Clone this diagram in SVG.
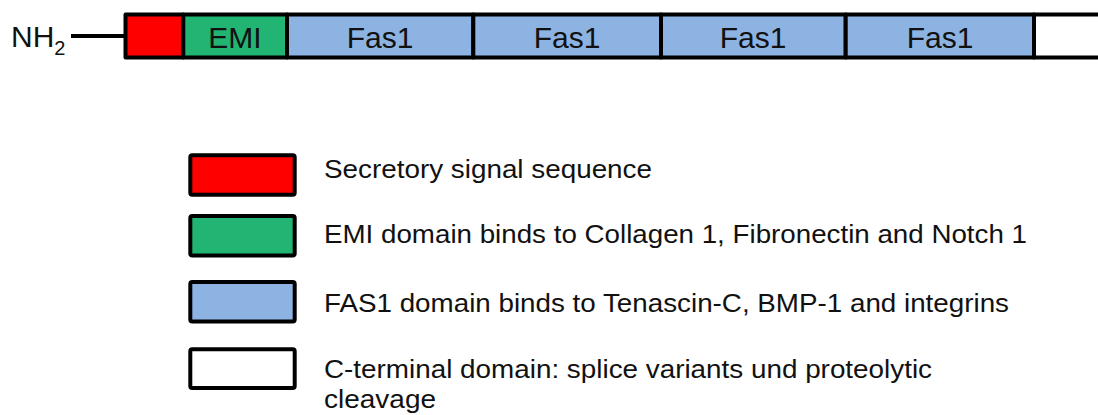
<svg xmlns="http://www.w3.org/2000/svg" width="1098" height="415" viewBox="0 0 1098 415">
  <style>
    .dom { stroke: #000; stroke-width: 4; stroke-linejoin: round; }
    .sig { fill: #FF0000; }
    .emi { fill: #22B473; }
    .fas { fill: #8DB3E2; }
    .cterm { fill: #FFFFFF; }
    .lbl { font-family: "Liberation Sans", Arial, sans-serif; font-size: 30px; fill: #111; text-anchor: middle; }
    .leg { font-family: "Liberation Sans", Arial, sans-serif; font-size: 26px; fill: #111; }
  </style>
  <rect width="1098" height="415" fill="#FFFFFF"/>

  <!-- N-terminus label -->
  <g id="nterm">
    <text class="leg" x="11" y="46.5" style="font-size:30px">NH<tspan dy="8.5" style="font-size:20px">2</tspan></text>
  </g>

  <!-- connector from N-terminus to first domain -->
  <g id="connectors">
    <line x1="71" y1="36" x2="125" y2="36" stroke="#000" stroke-width="4"/>
  </g>

  <!-- protein domain bar -->
  <g id="signal">
    <rect class="dom sig" x="125.5" y="14.5" width="57.8" height="43"/>
  </g>
  <g id="emi">
    <rect class="dom emi" x="183.3" y="14.5" width="103.7" height="43"/>
    <text class="lbl" x="235" y="47.5">EMI</text>
  </g>
  <g id="fas1-a">
    <rect class="dom fas" x="287" y="14.5" width="186.3" height="43"/>
    <text class="lbl" x="380" y="47.5">Fas1</text>
  </g>
  <g id="fas1-b">
    <rect class="dom fas" x="473.3" y="14.5" width="187.7" height="43"/>
    <text class="lbl" x="567" y="47.5">Fas1</text>
  </g>
  <g id="fas1-c">
    <rect class="dom fas" x="661" y="14.5" width="184.7" height="43"/>
    <text class="lbl" x="753" y="47.5">Fas1</text>
  </g>
  <g id="fas1-d">
    <rect class="dom fas" x="845.7" y="14.5" width="188.3" height="43"/>
    <text class="lbl" x="940" y="47.5">Fas1</text>
  </g>
  <g id="cterm">
    <rect class="dom cterm" x="1034" y="14.5" width="90" height="43"/>
  </g>

  <!-- legend -->
  <g id="legend-signal">
    <rect class="dom sig" x="190.3" y="155.3" width="104.4" height="39.4" rx="2"/>
    <text class="leg" x="324" y="178" textLength="328" lengthAdjust="spacingAndGlyphs">Secretory signal sequence</text>
  </g>
  <g id="legend-emi">
    <rect class="dom emi" x="190.3" y="216" width="104.4" height="39.4" rx="2"/>
    <text class="leg" x="324" y="243.3" textLength="703" lengthAdjust="spacingAndGlyphs">EMI domain binds to Collagen 1, Fibronectin and Notch 1</text>
  </g>
  <g id="legend-fas1">
    <rect class="dom fas" x="190.3" y="282" width="104.4" height="39.4" rx="2"/>
    <text class="leg" x="324" y="311.7" textLength="685" lengthAdjust="spacingAndGlyphs">FAS1 domain binds to Tenascin-C, BMP-1 and integrins</text>
  </g>
  <g id="legend-cterm">
    <rect class="dom cterm" x="190.3" y="349.3" width="104.4" height="38.7" rx="2"/>
    <text class="leg" x="324" y="378.3" textLength="608" lengthAdjust="spacingAndGlyphs">C-terminal domain: splice variants und proteolytic</text>
    <text class="leg" x="324" y="408" textLength="112" lengthAdjust="spacingAndGlyphs">cleavage</text>
  </g>
</svg>
